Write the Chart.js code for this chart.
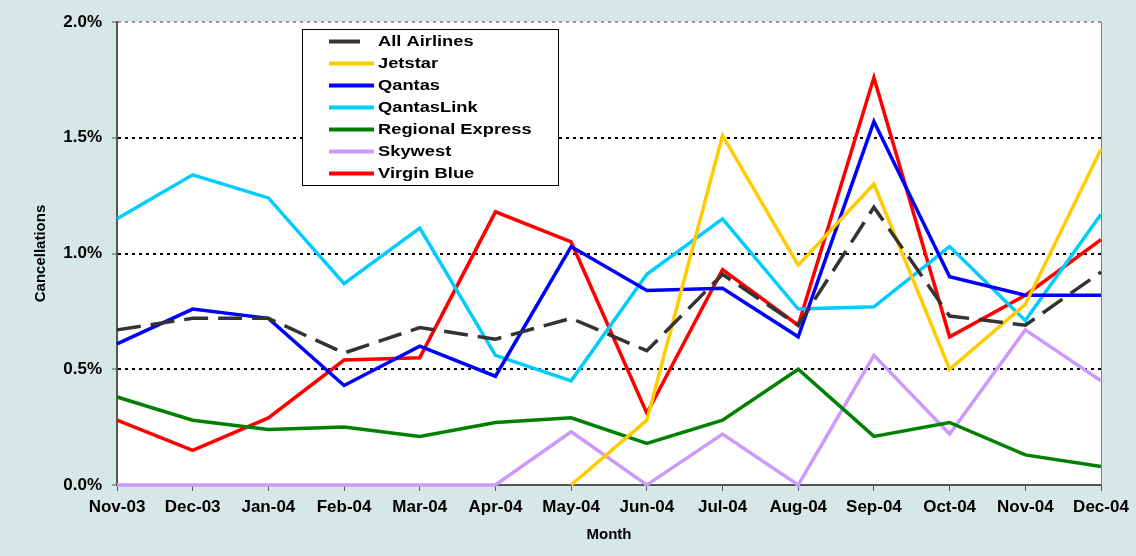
<!DOCTYPE html>
<html>
<head>
<meta charset="utf-8">
<script src="https://cdn.jsdelivr.net/npm/chart.js@4/dist/chart.umd.min.js"></script>
<style>
  html, body { margin: 0; padding: 0; background: #d5e8e6; }
  #wrap { width: 1136px; height: 556px; }
</style>
</head>
<body>
<div id="wrap"><canvas id="cancelChart"></canvas></div>
<script>
const months = ['Nov-03', 'Dec-03', 'Jan-04', 'Feb-04', 'Mar-04', 'Apr-04', 'May-04',
  'Jun-04', 'Jul-04', 'Aug-04', 'Sep-04', 'Oct-04', 'Nov-04', 'Dec-04'];

// cancellations, percent
const allAirlines = [0.67, 0.72, 0.72, 0.57, 0.68, 0.63, 0.72, 0.58, 0.91, 0.69, 1.20, 0.73, 0.69, 0.92];
const jetstar     = [null, null, null, null, null, null, 0.00, 0.28, 1.51, 0.95, 1.30, 0.50, 0.78, 1.45];
const qantas      = [0.61, 0.76, 0.72, 0.43, 0.60, 0.47, 1.03, 0.84, 0.85, 0.64, 1.57, 0.90, 0.82, 0.82];
const qantasLink  = [1.15, 1.34, 1.24, 0.87, 1.11, 0.56, 0.45, 0.91, 1.15, 0.76, 0.77, 1.03, 0.71, 1.17];
const rex         = [0.38, 0.28, 0.24, 0.25, 0.21, 0.27, 0.29, 0.18, 0.28, 0.50, 0.21, 0.27, 0.13, 0.08];
const skywest     = [0.00, 0.00, 0.00, 0.00, 0.00, 0.00, 0.23, 0.00, 0.22, 0.00, 0.56, 0.22, 0.67, 0.45];
const virginBlue  = [0.28, 0.15, 0.29, 0.54, 0.55, 1.18, 1.05, 0.31, 0.93, 0.69, 1.76, 0.64, 0.82, 1.06];

const yTicks = [0, 0.5, 1.0, 1.5, 2.0];

const FONT = "'Liberation Sans', Arial, sans-serif";

function line(label, data, color, dash) {
  return {
    label, data,
    borderColor: color,
    backgroundColor: color,
    borderWidth: 3.5,
    borderDash: dash || [],
    pointRadius: 0,
    tension: 0,
    clip: false,
    spanGaps: false
  };
}

// white plot area + right border
const plotBg = {
  id: 'plotBg',
  beforeDraw(chart) {
    const { ctx, chartArea: a } = chart;
    ctx.save();
    ctx.fillStyle = '#fff';
    ctx.fillRect(a.left, a.top, a.right - a.left, a.bottom - a.top);
    ctx.restore();
  },
  beforeDatasetsDraw(chart) {
    const { ctx, chartArea: a } = chart;
    ctx.save();
    ctx.strokeStyle = '#808080';
    ctx.lineWidth = 1;
    ctx.beginPath();
    ctx.moveTo(a.right + 0.5, a.top);
    ctx.lineTo(a.right + 0.5, a.bottom);
    ctx.stroke();
    ctx.restore();
  }
};

// legend box inside plot
const boxLegend = {
  id: 'boxLegend',
  afterDraw(chart) {
    const ctx = chart.ctx;
    const x = 302, y = 29, w = 256, h = 156;
    ctx.save();
    ctx.fillStyle = '#fff';
    ctx.fillRect(x, y, w, h);
    ctx.strokeStyle = '#000';
    ctx.lineWidth = 1;
    ctx.strokeRect(x + 0.5, y + 0.5, w, h);
    ctx.font = 'bold 15px ' + FONT;
    ctx.textBaseline = 'middle';
    chart.data.datasets.forEach((ds, i) => {
      const ly = y + 12.5 + i * 22;
      ctx.strokeStyle = ds.borderColor;
      ctx.lineWidth = 4;
      ctx.setLineDash(ds.borderDash.length ? [31, 30] : []);
      ctx.beginPath();
      ctx.moveTo(329, ly);
      ctx.lineTo(374, ly);
      ctx.stroke();
      ctx.setLineDash([]);
      ctx.fillStyle = '#000';
      ctx.save();
      ctx.translate(378, ly);
      ctx.scale(1.22, 1);
      ctx.fillText(ds.label, 0, 0);
      ctx.restore();
    });
    ctx.restore();
  }
};

new Chart(document.getElementById('cancelChart'), {
  type: 'line',
  data: {
    labels: months,
    datasets: [
      line('All Airlines', allAirlines, '#333333', [24, 10]),
      line('Jetstar', jetstar, '#ffcc00'),
      line('Qantas', qantas, '#0000ff'),
      line('QantasLink', qantasLink, '#00ccff'),
      line('Regional Express', rex, '#008000'),
      line('Skywest', skywest, '#cc99ff'),
      line('Virgin Blue', virginBlue, '#ff0000')
    ]
  },
  options: {
    responsive: true,
    maintainAspectRatio: false,
    animation: false,
    layout: { padding: { top: 22, right: 35, left: 0, bottom: 0 } },
    plugins: {
      legend: { display: false },
      tooltip: { enabled: false }
    },
    scales: {
      x: {
        offset: false,
        afterFit(scale) { scale.height = 71; },
        grid: {
          drawOnChartArea: false,
          tickLength: 6,
          tickColor: '#555',
          tickWidth: 1
        },
        border: { display: true, color: '#555', width: 2 },
        ticks: {
          color: '#000',
          padding: 6,
          maxRotation: 0,
          autoSkip: false,
          font: { family: FONT, size: 17, weight: 'bold' }
        },
        title: {
          display: true,
          text: 'Month',
          color: '#000',
          padding: { top: 0, bottom: 12 },
          font: { family: FONT, size: 15, weight: 'bold' }
        }
      },
      y: {
        min: 0,
        max: 2,
        afterFit(scale) { scale.width = 117; },
        afterBuildTicks(scale) { scale.ticks = yTicks.map(v => ({ value: v })); },
        grid: {
          color: c => c.tick && c.tick.value === 0 ? 'transparent' : (c.tick && c.tick.value === 2 ? '#999' : '#000'),
          lineWidth: 2,
          tickLength: 5,
          tickColor: '#555',
          tickWidth: 1,
          tickBorderDash: []
        },
        border: { display: true, color: '#555', width: 2, dash: [3, 4] },
        ticks: {
          color: '#000',
          padding: 10,
          callback: v => v.toFixed(1) + '%',
          font: { family: FONT, size: 17, weight: 'bold' }
        },
        title: {
          display: true,
          text: 'Cancellations',
          color: '#000',
          padding: { top: 32, bottom: 0 },
          font: { family: FONT, size: 15, weight: 'bold' }
        }
      }
    }
  },
  plugins: [plotBg, boxLegend]
});
</script>
</body>
</html>
